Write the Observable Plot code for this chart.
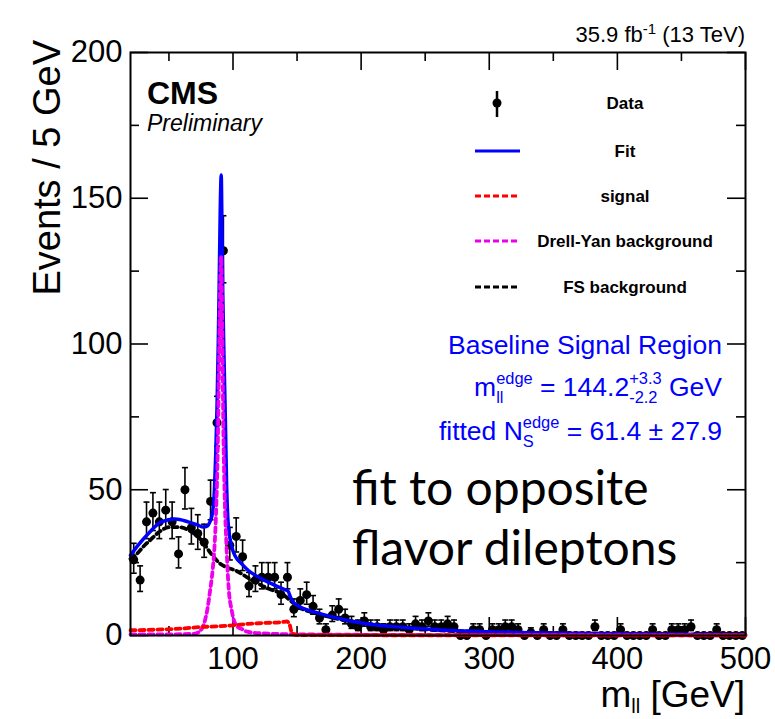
<!DOCTYPE html>
<html><head><meta charset="utf-8">
<script src="https://cdn.jsdelivr.net/npm/d3@7"></script>
<script src="https://cdn.jsdelivr.net/npm/@observablehq/plot@0.6"></script>
<style>
body{margin:0;background:#fff}
#chart{position:relative;width:775px;height:719px}
svg text{white-space:pre}
</style>
</head><body><div id="chart"></div>
<script>
// ---- data: events per 5 GeV bin, bins from 20 to 500 GeV ----
const binStart = 20, binWidth = 5;
const counts = [26,19,39,42,39,43,39,28,50,37,35,32,46,73,132,31,34,27,17,19,
                20,20,20,14,20,9,12,14,10,6,2,7,9,6,4,3,5,3,3,2,
                3,3,3,2,4,3,5,3,3,4,3,0,0,2,2,0,2,2,3,3,
                2,0,1,0,2,0,0,2,0,0,0,0,3,0,0,0,2,0,0,0,
                0,2,0,0,2,2,2,3,0,0,0,2,0,0,0,0];

// fit curves
const fitX = [20,26,34,44,55,65,72,77,80,82,84,85.5,86.5,87.5,88.5,89.2,90,90.8,91.4,92,93,94,95,96,97,98,100,102,107,112,120,130,140,143,145,147,152,164,178,204,230,269,308,350,400,450,500];
const fitY = [27.5,31,35,39,40,39,38,37.2,37.6,39,42,50,62,78,100,120,145,158,140,118,95,75,52,40,35,32.5,29,27,24.5,22.3,20,17.8,15.8,15.2,13,11.4,9.9,8,6.3,4,2.9,1.7,1.2,0.8,0.6,0.4,0.3];

const sigX = [20,40,60,75,90,100,112,125,138,142,144,145.5,147,150,200,300,400,500];
const sigY = [1.8,2.0,2.4,2.9,3.2,3.5,4.0,4.3,4.6,4.8,4.0,1.5,0.5,0.15,0.1,0.08,0.06,0.05];

const dyX = [20,50,70,76,78,80,82,84,85.5,87,88,89,90,90.8,91.5,92.5,93.5,95,96.5,99,103,107,111,120,150,200,300,500];
const dyY = [0.4,0.4,0.6,2.5,5,9,15,22,30,45,62,90,120,130,110,70,48,30,17,8.6,3.2,2.2,1.3,0.8,0.4,0.25,0.12,0.05];

const fsX = [20,25,30,36,42,51,57,66,75.5,83,89,95,102,115,128,138,144,148,152,164,178,204,230,269,308,350,400,450,500];
const fsY = [26.3,28,30.5,33,35.4,37.2,37.2,36,32.6,28,25,23.4,22.3,18.9,16,14.3,12.3,10.8,9.6,7.7,6.1,3.9,2.8,1.6,1.1,0.7,0.5,0.35,0.25];

const xMajorTicks = [100,200,300,400,500];
const xMinorTicks = [50,150,250,350,450];
const yMajorTicks = [0,50,100,150,200];
const yMinorTicks = [25,75,125,175];

const legendLabels = ["Data","Fit","signal","Drell-Yan background","FS background"];

// ---- build tables ----
const bins = counts.map((n,i)=>({x: binStart + binWidth*i + binWidth/2, n}));
const nonzero = bins.filter(d=>d.n>0);
// approximate Poisson (Garwood-like) asymmetric errors
const lo = n => Math.sqrt(n+0.25)-0.5;
const hi = n => Math.sqrt(n+0.25)+0.5;
const toPts = (xs,ys)=>xs.map((x,i)=>({x, y: ys[i]}));

const W=775,H=719,mL=130,mR=30,mT=52,mB=84;
const pw=W-mL-mR, ph=H-mT-mB;

const cap = {draw(ctx,size){const w=Math.sqrt(size/Math.PI); ctx.moveTo(-w,0); ctx.lineTo(w,0);}};

const chart = Plot.plot({
  width:W, height:H, marginLeft:mL, marginRight:mR, marginTop:mT, marginBottom:mB,
  style:{fontFamily:"'Liberation Sans', Arial, sans-serif", background:"white", color:"black"},
  x:{domain:[20,500]},
  y:{domain:[0,200]},
  marks:[
    // tick labels
    Plot.axisX(xMajorTicks,{tickSize:0, tickPadding:11, fontSize:31, label:null}),
    Plot.axisY(yMajorTicks,{tickSize:0, tickPadding:8, fontSize:31, label:null}),
    // inward ticks
    Plot.tickX(xMajorTicks,{x:d=>d, insetTop:ph-18, stroke:"black", strokeWidth:1.6}),
    Plot.tickX(xMinorTicks,{x:d=>d, insetTop:ph-9, stroke:"black", strokeWidth:1.6}),
    Plot.tickX(xMajorTicks,{x:d=>d, insetBottom:ph-18, stroke:"black", strokeWidth:1.6}),
    Plot.tickX(xMinorTicks,{x:d=>d, insetBottom:ph-9, stroke:"black", strokeWidth:1.6}),
    Plot.tickY(yMajorTicks,{y:d=>d, insetRight:pw-18, stroke:"black", strokeWidth:1.6}),
    Plot.tickY(yMinorTicks,{y:d=>d, insetRight:pw-9, stroke:"black", strokeWidth:1.6}),
    Plot.tickY(yMajorTicks,{y:d=>d, insetLeft:pw-18, stroke:"black", strokeWidth:1.6}),
    Plot.tickY(yMinorTicks,{y:d=>d, insetLeft:pw-9, stroke:"black", strokeWidth:1.6}),
    // data
    Plot.ruleX(nonzero,{x:"x", y1:d=>d.n-lo(d.n), y2:d=>d.n+hi(d.n), stroke:"black", strokeWidth:1.6}),
    Plot.dot(nonzero,{x:"x", y:d=>d.n-lo(d.n), symbol:cap, r:3, stroke:"black", strokeWidth:1.6, fill:"none"}),
    Plot.dot(nonzero,{x:"x", y:d=>d.n+hi(d.n), symbol:cap, r:3, stroke:"black", strokeWidth:1.6, fill:"none"}),
    Plot.dot(bins,{x:"x", y:"n", r:4.5, fill:"black", stroke:"none"}),
    // curves
    Plot.line(toPts(fsX,fsY),{x:"x", y:"y", stroke:"black", strokeWidth:3.8, strokeDasharray:"5,4", curve:"monotone-x"}),
    Plot.line(toPts(fitX,fitY),{x:"x", y:"y", stroke:"#0000ff", strokeWidth:3.5, curve:"monotone-x"}),
    Plot.line(toPts(dyX,dyY),{x:"x", y:"y", stroke:"#ee00ee", strokeWidth:3.8, strokeDasharray:"5,4", curve:"monotone-x"}),
    Plot.line(toPts(sigX,sigY),{x:"x", y:"y", stroke:"#ff0000", strokeWidth:3.8, strokeDasharray:"5,4", curve:"monotone-x"}),
    Plot.frame({stroke:"black", strokeWidth:2})
  ]
});
document.getElementById("chart").appendChild(chart);

// ---- annotations ----
const svg = d3.select(chart);
const g = svg.append("g").attr("font-family","'Liberation Sans', Arial, sans-serif")
  .attr("fill","black").attr("text-anchor","start");

// lumi label
const lumi = g.append("text").attr("x",745).attr("y",42).attr("text-anchor","end").attr("font-size",22);
lumi.append("tspan").text("35.9 fb");
lumi.append("tspan").attr("dy",-8).attr("font-size",15).text("-1");
lumi.append("tspan").attr("dy",8).text(" (13 TeV)");

g.append("text").attr("x",147).attr("y",104).attr("font-size",32).attr("font-weight","bold").text("CMS");
g.append("text").attr("x",147).attr("y",131).attr("font-size",23).attr("font-style","italic").text("Preliminary");

// axis titles
g.append("text").attr("transform","translate(60,40) rotate(-90)").attr("text-anchor","end").attr("font-size",38).text("Events / 5 GeV");
const xt = g.append("text").attr("x",745).attr("y",707).attr("text-anchor","end").attr("font-size",37);
xt.append("tspan").text("m");
xt.append("tspan").attr("dy",6).attr("font-size",20).text("ll");
xt.append("tspan").attr("dy",-6).text(" [GeV]");

// legend
const lg = g.append("g");
const legY = [103,151,196,241,287];
lg.append("line").attr("x1",497).attr("x2",497).attr("y1",91).attr("y2",117).attr("stroke","black").attr("stroke-width",2.5);
lg.append("circle").attr("cx",497).attr("cy",103).attr("r",4.5).attr("fill","black");
const legStyles = [null,{c:"#0000ff",d:null},{c:"#ff0000",d:"6,3"},{c:"#ee00ee",d:"6,3"},{c:"black",d:"6,3"}];
legStyles.forEach((s,i)=>{ if(!s) return;
  lg.append("line").attr("x1",475).attr("x2",520).attr("y1",legY[i]).attr("y2",legY[i])
    .attr("stroke",s.c).attr("stroke-width",3).attr("stroke-dasharray",s.d);
});
legendLabels.forEach((t,i)=>{
  lg.append("text").attr("x",625).attr("y",legY[i]+6).attr("text-anchor","middle")
    .attr("font-size",17).attr("font-weight","bold").text(t);
});

// blue fit results
const bg = g.append("g").attr("fill","#0000ff").attr("text-anchor","start");
function richLine(parent, xRight, y, segs, base){
  const small = base*0.62;
  const items = segs.map(s=>{
    if (typeof s === "string"){
      const a = parent.append("text").attr("font-size",base).text(s);
      return {w:a.node().getComputedTextLength(), nodes:[a], stack:false};
    }
    const a = parent.append("text").attr("font-size",small).text(s[0]);
    const b = parent.append("text").attr("font-size",small).text(s[1]);
    return {w:Math.max(a.node().getComputedTextLength(), b.node().getComputedTextLength()), nodes:[a,b], stack:true};
  });
  let x = xRight - d3.sum(items,d=>d.w);
  items.forEach(it=>{
    if(!it.stack) it.nodes[0].attr("x",x).attr("y",y);
    else { it.nodes[0].attr("x",x).attr("y",y-base*0.45); it.nodes[1].attr("x",x).attr("y",y+base*0.28); }
    x += it.w;
  });
}
richLine(bg, 722, 354, ["Baseline Signal Region"], 26.5);
richLine(bg, 722, 396, ["m", ["edge","ll"], " = 144.2", ["+3.3","-2.2"], " GeV"], 26.5);
richLine(bg, 722, 440, ["fitted N", ["edge","S"], " = 61.4 \u00b1 27.9"], 26.5);

// overlay note
const note = g.append("g").attr("font-family","Lato, 'Open Sans', sans-serif").attr("font-size",48)
  .attr("fill","black").attr("text-anchor","start");
note.append("text").attr("x",352).attr("y",505).text("fit to opposite");
note.append("text").attr("x",352).attr("y",565).text("flavor dileptons");
</script>
</body></html>
